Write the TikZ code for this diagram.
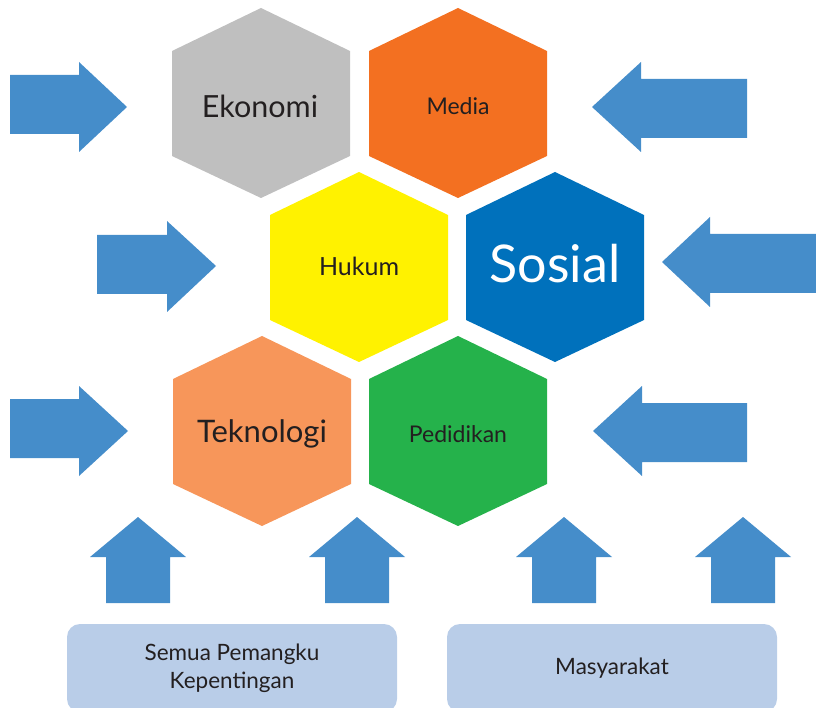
\documentclass[tikz,border=0pt]{standalone}
\usepackage{fontspec}
\setmainfont{Lato}
\definecolor{arrowblue}{HTML}{458DCA}
\definecolor{hexgray}{HTML}{BFBFBF}
\definecolor{hexorange}{HTML}{F37021}
\definecolor{hexyellow}{HTML}{FFF200}
\definecolor{hexblue}{HTML}{0071BC}
\definecolor{hexpeach}{HTML}{F7965A}
\definecolor{hexgreen}{HTML}{25B24B}
\definecolor{boxblue}{HTML}{B9CDE8}
\definecolor{txt}{HTML}{231F20}
\tikzset{
  hexlabel/.style={text=txt, inner sep=0pt},
  basebox/.style={fill=boxblue, rounded corners=13pt, minimum width=330pt, minimum height=88pt, text=txt, font=\fontsize{22.5}{28}\selectfont, align=center},
  arrowfill/.style={fill=arrowblue}
}
\newcommand\hexshape[3]{\fill[#3, shift={(#1,#2)}] (0,-95) -- (89,-52) -- (89,53) -- (0,95) -- (-89,53) -- (-89,-52) -- cycle;}
\begin{document}
\begin{tikzpicture}[x=1pt,y=-1pt]
\useasboundingbox (0,0) rectangle (816,708);
\clip (0,0) rectangle (816,708);
% hexagons
\hexshape{261}{103}{hexgray}
\hexshape{458}{103}{hexorange}
\hexshape{359}{267}{hexyellow}
\hexshape{555}{267}{hexblue}
\hexshape{262}{431}{hexpeach}
\hexshape{458}{431}{hexgreen}
\node[hexlabel, font=\fontsize{30.5}{32}\selectfont] (ekonomi) at (260,106) {Ekonomi};
\node[hexlabel, font=\fontsize{23}{26}\selectfont] (media) at (458,106) {Media};
\node[hexlabel, font=\fontsize{25}{28}\selectfont] (hukum) at (359,266) {Hukum};
\node[hexlabel, text=white, font=\fontsize{52}{56}\selectfont] (sosial) at (555,264) {Sosial};
\node[hexlabel, font=\fontsize{31}{34}\selectfont] (teknologi) at (262,434) {Teknologi};
\node[hexlabel, font=\fontsize{23}{26}\selectfont] (pedidikan) at (458,434) {Pedidikan};
% right-pointing arrows
\fill[arrowfill] (10,75) -- (79,75) -- (79,62) -- (127,107) -- (79,152) -- (79,134) -- (10,134) -- cycle;
\fill[arrowfill] (97,235) -- (167,235) -- (167,221) -- (216,266) -- (167,312) -- (167,294) -- (97,294) -- cycle;
\fill[arrowfill] (10,399) -- (79,399) -- (79,386) -- (128,431) -- (79,476) -- (79,458) -- (10,458) -- cycle;
% left-pointing arrows
\fill[arrowfill] (747,79) -- (641,79) -- (641,62) -- (592,107) -- (641,152) -- (641,138) -- (747,138) -- cycle;
\fill[arrowfill] (820,234) -- (710,234) -- (710,217) -- (662,262) -- (710,307) -- (710,293) -- (820,293) -- cycle;
\fill[arrowfill] (747,403) -- (642,403) -- (642,386) -- (593,431) -- (642,476) -- (642,462) -- (747,462) -- cycle;
% up arrows
\foreach \cx in {138,357,564,743}{
  \fill[arrowfill] (\cx-48,557) -- (\cx,517) -- (\cx+48,557) -- (\cx+32,557) -- (\cx+32,603) -- (\cx-32,603) -- (\cx-32,557) -- cycle;
}
% base boxes
\node[basebox] (stake) at (232,668) {Semua Pemangku\\Kepentingan};
\node[basebox] (masy) at (612,668) {Masyarakat};
\end{tikzpicture}
\end{document}
